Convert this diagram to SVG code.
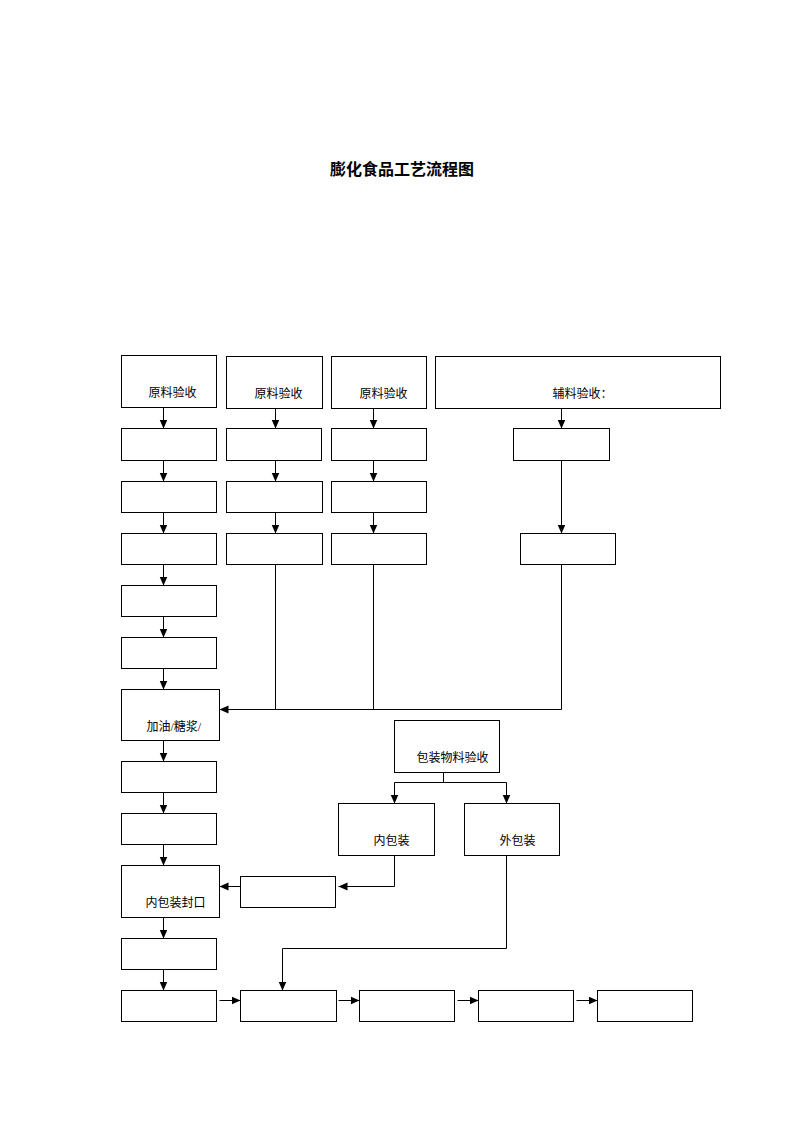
<svg xmlns="http://www.w3.org/2000/svg" width="793" height="1122" viewBox="0 0 793 1122">
<style>
rect.b{fill:#fff;stroke:#000;stroke-width:1}
text{font-family:"Liberation Serif","Noto Sans CJK SC",serif;font-size:12px;fill:#000}
text.t{font-family:"Noto Sans CJK SC",sans-serif;font-size:16px;font-weight:bold;text-anchor:middle}
.c path,.c line{fill:none;stroke:#000;stroke-width:1}
</style>
<defs>
<marker id="a" markerWidth="10" markerHeight="10" refX="9" refY="5" orient="auto" markerUnits="userSpaceOnUse">
<path d="M0,1 L9,5 L0,9 Z" fill="#000"/>
</marker>
</defs>
<rect width="793" height="1122" fill="#fff"/>
<text class="t" x="402" y="175">膨化食品工艺流程图</text>
<g transform="translate(0.5,0.5)">
<g id="n1"><rect class="b" x="121" y="355" width="95" height="52"/><text x="148" y="396">原料验收</text></g>
<g id="n2"><rect class="b" x="121" y="428" width="95" height="32"/></g>
<g id="n3"><rect class="b" x="121" y="481" width="95" height="31"/></g>
<g id="n4"><rect class="b" x="121" y="533" width="95" height="31"/></g>
<g id="n5"><rect class="b" x="121" y="585" width="95" height="31"/></g>
<g id="n6"><rect class="b" x="121" y="637" width="95" height="31"/></g>
<g id="n7"><rect class="b" x="121" y="689" width="98" height="51"/><text x="146" y="730">加油/糖浆/</text></g>
<g id="n8"><rect class="b" x="121" y="761" width="95" height="31"/></g>
<g id="n9"><rect class="b" x="121" y="813" width="95" height="31"/></g>
<g id="n10"><rect class="b" x="121" y="865" width="98" height="52"/><text x="145" y="906">内包装封口</text></g>
<g id="n11"><rect class="b" x="121" y="938" width="95" height="31"/></g>
<g id="n12"><rect class="b" x="121" y="990" width="95" height="31"/></g>

<g id="m1"><rect class="b" x="226" y="356" width="96" height="52"/><text x="254" y="397">原料验收</text></g>
<g id="m2"><rect class="b" x="226" y="428" width="95" height="32"/></g>
<g id="m3"><rect class="b" x="226" y="481" width="96" height="31"/></g>
<g id="m4"><rect class="b" x="226" y="533" width="96" height="31"/></g>

<g id="k1"><rect class="b" x="331" y="356" width="95" height="52"/><text x="359" y="397">原料验收</text></g>
<g id="k2"><rect class="b" x="331" y="428" width="95" height="32"/></g>
<g id="k3"><rect class="b" x="331" y="481" width="95" height="31"/></g>
<g id="k4"><rect class="b" x="331" y="533" width="95" height="31"/></g>

<g id="f1"><rect class="b" x="435" y="356" width="285" height="52"/><text x="552" y="397">辅料验收：</text></g>
<g id="f2"><rect class="b" x="513" y="428" width="96" height="32"/></g>
<g id="f3"><rect class="b" x="520" y="533" width="95" height="31"/></g>

<g id="p1"><rect class="b" x="394" y="720" width="105" height="52"/><text x="416" y="761">包装物料验收</text></g>
<g id="p2"><rect class="b" x="338" y="803" width="96" height="52"/><text x="373" y="844">内包装</text></g>
<g id="p3"><rect class="b" x="464" y="803" width="95" height="52"/><text x="499" y="844">外包装</text></g>
<g id="p4"><rect class="b" x="240" y="876" width="95" height="31"/></g>

<g id="b2"><rect class="b" x="240" y="990" width="96" height="31"/></g>
<g id="b3"><rect class="b" x="359" y="990" width="95" height="31"/></g>
<g id="b4"><rect class="b" x="478" y="990" width="95" height="31"/></g>
<g id="b5"><rect class="b" x="597" y="990" width="95" height="31"/></g>

<g id="connectors" class="c">
<line x1="163" y1="407" x2="163" y2="428" marker-end="url(#a)"/>
<line x1="163" y1="460" x2="163" y2="481" marker-end="url(#a)"/>
<line x1="163" y1="512" x2="163" y2="533" marker-end="url(#a)"/>
<line x1="163" y1="564" x2="163" y2="585" marker-end="url(#a)"/>
<line x1="163" y1="616" x2="163" y2="637" marker-end="url(#a)"/>
<line x1="163" y1="668" x2="163" y2="689" marker-end="url(#a)"/>
<line x1="163" y1="740" x2="163" y2="761" marker-end="url(#a)"/>
<line x1="163" y1="792" x2="163" y2="813" marker-end="url(#a)"/>
<line x1="163" y1="844" x2="163" y2="865" marker-end="url(#a)"/>
<line x1="163" y1="917" x2="163" y2="938" marker-end="url(#a)"/>
<line x1="163" y1="969" x2="163" y2="990" marker-end="url(#a)"/>

<line x1="275" y1="408" x2="275" y2="428" marker-end="url(#a)"/>
<line x1="275" y1="460" x2="275" y2="481" marker-end="url(#a)"/>
<line x1="275" y1="512" x2="275" y2="533" marker-end="url(#a)"/>
<line x1="373" y1="408" x2="373" y2="428" marker-end="url(#a)"/>
<line x1="373" y1="460" x2="373" y2="481" marker-end="url(#a)"/>
<line x1="373" y1="512" x2="373" y2="533" marker-end="url(#a)"/>
<line x1="561" y1="408" x2="561" y2="428" marker-end="url(#a)"/>
<line x1="561" y1="460" x2="561" y2="533" marker-end="url(#a)"/>

<line x1="275" y1="564" x2="275" y2="709"/>
<line x1="373" y1="564" x2="373" y2="709"/>
<path d="M561,564 V709 H219" marker-end="url(#a)"/>

<path d="M443,772 V782 M394,782 H506"/>
<line x1="394" y1="782" x2="394" y2="803" marker-end="url(#a)"/>
<line x1="506" y1="782" x2="506" y2="803" marker-end="url(#a)"/>
<path d="M394,855 V886 H338" marker-end="url(#a)"/>
<line x1="240" y1="886" x2="219" y2="886" marker-end="url(#a)"/>
<path d="M506,855 V948 H282 V990" marker-end="url(#a)"/>

<line x1="219" y1="1000" x2="240" y2="1000" marker-end="url(#a)"/>
<line x1="338" y1="1000" x2="359" y2="1000" marker-end="url(#a)"/>
<line x1="457" y1="1000" x2="478" y2="1000" marker-end="url(#a)"/>
<line x1="576" y1="1000" x2="597" y2="1000" marker-end="url(#a)"/>
</g>
</g>
</svg>
